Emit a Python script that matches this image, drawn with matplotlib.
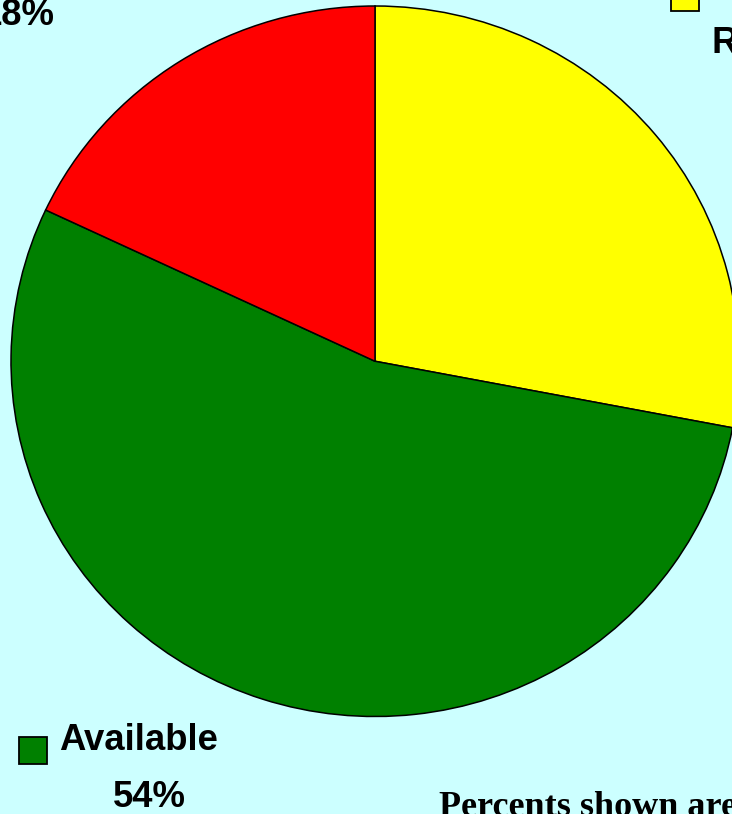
import matplotlib.pyplot as plt
from matplotlib.patches import Rectangle

# Slice data (clockwise from 12 o'clock)
categories = ['Reserved', 'Available', 'In Use']
percents = [28, 54, 18]
colors = ['#FFFF00', '#008000', '#FF0000']
footnote = 'Percents shown are approximate'

BG = '#CCFFFF'
W, H = 732, 814

fig = plt.figure(figsize=(W / 100, H / 100), dpi=100, facecolor=BG)

# pie axes, a touch wider than tall like the original plot
ax = fig.add_axes([11 / W, 97.5 / H, 728 / W, 710.5 / H])
ax.set_facecolor(BG)
ax.pie(percents, colors=colors, startangle=90, counterclock=False,
       wedgeprops=dict(edgecolor='black', linewidth=1.1))
ax.set_aspect('auto')
ax.set_xlim(-1, 1)
ax.set_ylim(-1, 1)
ax.axis('off')

# overlay in pixel units for the callout labels
ov = fig.add_axes([0, 0, 1, 1], facecolor='none')
ov.set_xlim(0, W)
ov.set_ylim(H, 0)
ov.axis('off')

# square (x, y), name (x, baseline), percent (x, baseline)
label_pos = {
    'Reserved': ((671, -16), (711, 53), (766, 110)),
    'Available': ((19, 737), (59, 750), (113, 807)),
    'In Use': ((-86, -70), (-46, -32), (-18, 25)),
}

sans = dict(family='Liberation Sans', weight='bold', size=26.3)
for name, pct, col in zip(categories, percents, colors):
    (sx, sy), (nx, ny), (px, py) = label_pos[name]
    ov.add_patch(Rectangle((sx, sy), 28, 27, facecolor=col,
                           edgecolor='black', linewidth=1.3, clip_on=False))
    ov.text(nx, ny, name, ha='left', va='baseline', **sans)
    ov.text(px, py, f'{pct}%', ha='left', va='baseline', **sans)

ov.text(439, 816, footnote, ha='left', va='baseline',
        family='Liberation Serif', weight='bold', size=26)

fig.savefig('out.png', dpi=100, facecolor=BG)
